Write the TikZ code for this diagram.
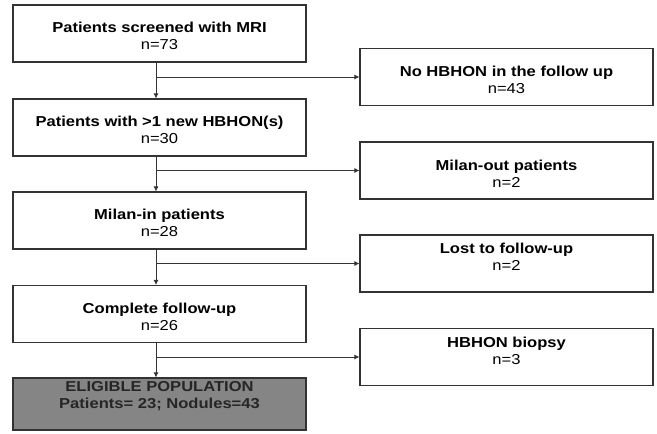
\documentclass[tikz,border=0pt]{standalone}
\usepackage{fontspec}
\setmainfont{Liberation Sans}[FakeStretch=1.15]
\usepackage{tikz}
\usetikzlibrary{positioning, arrows.meta}
\definecolor{dgray}{HTML}{333333}
\definecolor{mgray}{HTML}{858585}

\begin{document}
\begin{tikzpicture}[
    x=1pt, y=-1pt,
    box/.style={rectangle, draw=dgray, line width=1.1pt, fill=white, minimum height=57pt, minimum width=293pt, align=center, inner sep=2pt, font=\fontsize{14.4}{17}\selectfont\bfseries, text height=33pt},
    final/.style={box, fill=mgray, text=black!85, minimum height=52pt, text height=26pt, text depth=17pt},
    high/.style={text height=26pt, text depth=12pt},
    arr/.style={-{Latex[length=5pt, width=5pt]}, line width=0.8pt, dgray},
]
\useasboundingbox (0,0) rectangle (657,434);

% Main flow
\node[box] (screen) at (159.5,33.5) {Patients screened with MRI\\{\mdseries n=73}};
\node[box] (newhb) at (159.5,127.5) {Patients with >1 new HBHON(s)\\{\mdseries n=30}};
\node[box] (milin) at (159.5,220.5) {Milan-in patients\\{\mdseries n=28}};
\node[box] (complete) at (159.5,314) {Complete follow-up\\{\mdseries n=26}};
\node[final] (elig) at (159.5,404) {ELIGIBLE POPULATION\\Patients= 23; Nodules=43};

% Exclusions
\node[box] (nohb) at (506.5,77) {No HBHON in the follow up\\{\mdseries n=43}};
\node[box] (milout) at (506.5,170.5) {Milan-out patients\\{\mdseries n=2}};
\node[box, high] (lost) at (506.5,263.5) {Lost to follow-up\\{\mdseries n=2}};
\node[box, high] (biopsy) at (506.5,357) {HBHON biopsy\\{\mdseries n=3}};

% Branch points
\coordinate (br1) at (156,77);
\coordinate (br2) at (156,170.5);
\coordinate (br3) at (156,263.5);
\coordinate (br4) at (156,357);

% Arrows
\draw[arr] ([xshift=-3.5pt]screen.south) -- ([xshift=-3.5pt]newhb.north);
\draw[arr] ([xshift=-3.5pt]newhb.south) -- ([xshift=-3.5pt]milin.north);
\draw[arr] ([xshift=-3.5pt]milin.south) -- ([xshift=-3.5pt]complete.north);
\draw[arr] ([xshift=-3.5pt]complete.south) -- ([xshift=-3.5pt]elig.north);
\draw[arr] (br1) -- (nohb.west);
\draw[arr] (br2) -- (milout.west);
\draw[arr] (br3) -- (lost.west);
\draw[arr] (br4) -- (biopsy.west);

\end{tikzpicture}
\end{document}
